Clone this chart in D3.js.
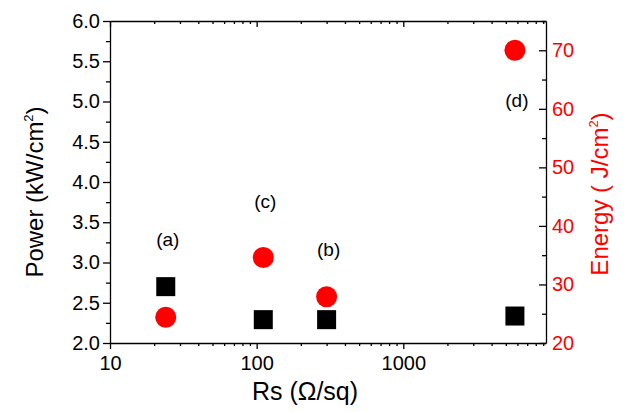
<!DOCTYPE html>
<html>
<head>
<meta charset="utf-8">
<script src="https://cdn.jsdelivr.net/npm/d3@7"></script>
<style>
  body { margin: 0; background: #fff; }
  text { font-family: "Liberation Sans", Arial, sans-serif; }
</style>
</head>
<body>
<div id="chart"></div>
<script>
// sample data
var samples = ["(a)", "(c)", "(b)", "(d)"];
var rs = [24, 111, 300, 5770];          // sheet resistance, ohm/sq
var power = [2.70, 2.29, 2.29, 2.335];  // kW/cm2
var energy = [24.4, 34.6, 27.9, 70.0];  // J/cm2
var labelPower = [3.27, 3.74, 3.14, 4.99]; // where the sample tags sit (power units)

var leftTicks = [2.0, 2.5, 3.0, 3.5, 4.0, 4.5, 5.0, 5.5, 6.0];
var rightTicks = [20, 30, 40, 50, 60, 70];
var xTicks = [10, 100, 1000];

var svgWidth = 629;
var svgHeight = 412;
var margin = { top: 21, right: 83, bottom: 69, left: 110 };
var chartWidth = svgWidth - margin.left - margin.right;
var chartHeight = svgHeight - margin.top - margin.bottom;

var svg = d3.select("#chart")
  .append("svg")
  .attr("width", svgWidth)
  .attr("height", svgHeight);

var chartGroup = svg.append("g")
  .attr("transform", `translate(${margin.left}, ${margin.top})`);

// scales
var xScale = d3.scaleLog().domain([10, 9400]).range([0, chartWidth]);
var yLeft = d3.scaleLinear().domain([2, 6]).range([chartHeight, 0]);
var yRight = d3.scaleLinear().domain([20, 75]).range([chartHeight, 0]);

// minor tick positions on the log axis
var xMinor = [];
[10, 100, 1000].forEach(function(d) {
  for (var k = 2; k <= 9; k++) {
    if (d * k <= 9400) xMinor.push(d * k);
  }
});

function styleAxis(g, color) {
  g.selectAll("path, line").attr("stroke", color).attr("stroke-width", 1.3);
  g.selectAll("text").attr("fill", color).style("font-size", "20px");
}

// bottom: minor then major
chartGroup.append("g")
  .attr("transform", `translate(0, ${chartHeight})`)
  .call(d3.axisBottom(xScale).tickValues(xMinor).tickSize(3).tickFormat(""))
  .call(g => g.select(".domain").remove())
  .call(g => styleAxis(g, "#000"));
chartGroup.append("g")
  .attr("transform", `translate(0, ${chartHeight})`)
  .call(d3.axisBottom(xScale).tickValues(xTicks).tickSize(6).tickSizeOuter(0)
    .tickPadding(7).tickFormat(d3.format("d")))
  .call(g => styleAxis(g, "#000"));

// top: inward ticks, no labels
chartGroup.append("g")
  .call(d3.axisBottom(xScale).tickValues(xMinor).tickSize(3).tickFormat(""))
  .call(g => g.select(".domain").remove())
  .call(g => styleAxis(g, "#000"));
chartGroup.append("g")
  .call(d3.axisBottom(xScale).tickValues(xTicks).tickSize(6).tickSizeOuter(0).tickFormat(""))
  .call(g => styleAxis(g, "#000"));

// left axis, outward ticks
chartGroup.append("g")
  .call(d3.axisLeft(yLeft).tickValues(d3.range(2.25, 6, 0.5)).tickSize(4).tickFormat(""))
  .call(g => g.select(".domain").remove())
  .call(g => styleAxis(g, "#000"));
chartGroup.append("g")
  .call(d3.axisLeft(yLeft).tickValues(leftTicks).tickSize(7).tickSizeOuter(0)
    .tickPadding(3).tickFormat(d3.format(".1f")))
  .call(g => styleAxis(g, "#000"));

// right axis, inward ticks, red labels
chartGroup.append("g")
  .attr("transform", `translate(${chartWidth}, 0)`)
  .call(d3.axisLeft(yRight).tickValues([25, 35, 45, 55, 65, 75]).tickSize(4).tickFormat(""))
  .call(g => g.select(".domain").remove())
  .call(g => styleAxis(g, "#000"));
var rightAxis = chartGroup.append("g")
  .attr("transform", `translate(${chartWidth}, 0)`)
  .call(d3.axisLeft(yRight).tickValues(rightTicks).tickSize(7).tickSizeOuter(0).tickFormat(d3.format("d")))
  .call(g => styleAxis(g, "#000"));
rightAxis.selectAll("text")
  .attr("fill", "#ff0000")
  .attr("text-anchor", "start")
  .attr("x", 6);

// power markers (squares)
var sq = 19;
chartGroup.selectAll("rect.power")
  .data(rs)
  .enter()
  .append("rect")
  .attr("class", "power")
  .attr("x", (d, i) => xScale(d) - sq / 2)
  .attr("y", (d, i) => yLeft(power[i]) - sq / 2)
  .attr("width", sq)
  .attr("height", sq)
  .attr("fill", "#000");

// energy markers (circles)
chartGroup.selectAll("circle.energy")
  .data(rs)
  .enter()
  .append("circle")
  .attr("class", "energy")
  .attr("cx", d => xScale(d))
  .attr("cy", (d, i) => yRight(energy[i]))
  .attr("r", 10.5)
  .attr("fill", "#ff0000");

// sample tags
chartGroup.selectAll("text.tag")
  .data(samples)
  .enter()
  .append("text")
  .attr("class", "tag")
  .attr("x", (d, i) => xScale(rs[i]) + 2)
  .attr("y", (d, i) => yLeft(labelPower[i]))
  .attr("text-anchor", "middle")
  .attr("dominant-baseline", "middle")
  .style("font-size", "19px")
  .text(d => d);

// axis titles
var leftTitle = svg.append("text")
  .attr("transform", "translate(43, 192) rotate(-90)")
  .attr("text-anchor", "middle")
  .style("font-size", "24px");
leftTitle.append("tspan").text("Power (kW/cm");
leftTitle.append("tspan").attr("dy", -10).style("font-size", "13px").text("2");
leftTitle.append("tspan").attr("dy", 10).text(")");

var rightTitle = svg.append("text")
  .attr("transform", "translate(608, 194) rotate(-90)")
  .attr("text-anchor", "middle")
  .attr("fill", "#ff0000")
  .style("font-size", "24px");
rightTitle.append("tspan").text("Energy ( J/cm");
rightTitle.append("tspan").attr("dy", -10).style("font-size", "13px").text("2");
rightTitle.append("tspan").attr("dy", 10).text(")");

svg.append("text")
  .attr("x", 305)
  .attr("y", 400)
  .attr("text-anchor", "middle")
  .style("font-size", "25px")
  .text("Rs (\u03A9/sq)");
</script>
</body>
</html>
